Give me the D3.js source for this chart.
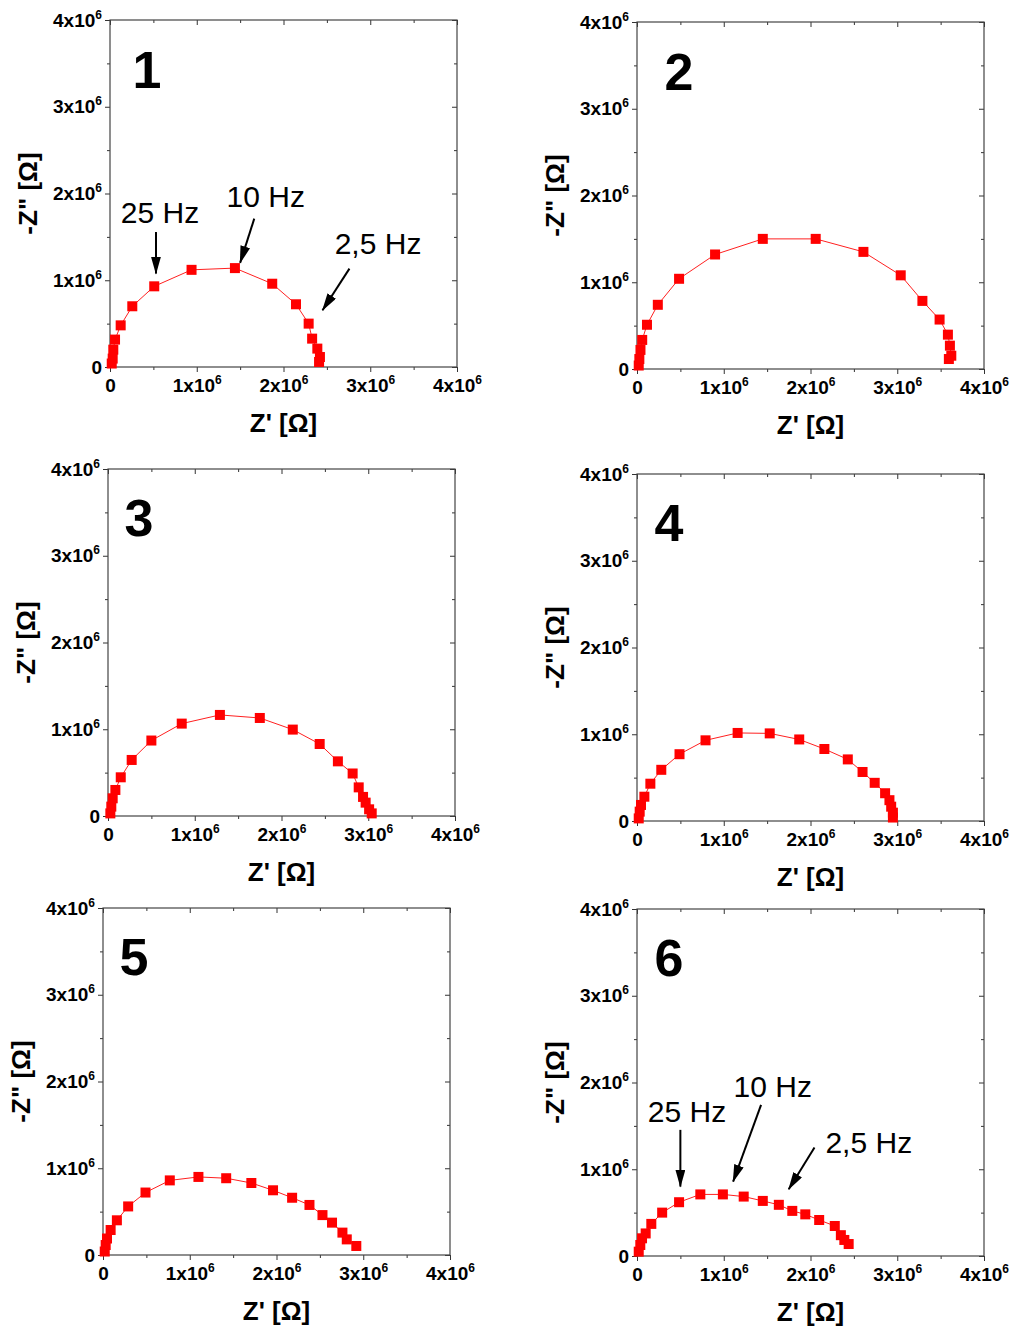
<!DOCTYPE html>
<html>
<head>
<meta charset="utf-8">
<script src="https://cdn.jsdelivr.net/npm/d3@7"></script>
<style>
  body { margin: 0; background: #fff; }
  svg { display: block; font-family: "Liberation Sans", Arial, sans-serif; }
</style>
</head>
<body>
<svg id="chart" width="1016" height="1331"></svg>
<script>
// sample numbers shown in each panel
const sampleLabels = ['1', '2', '3', '4', '5', '6'];

// Z' and -Z'' (ohm), high to low frequency
const zRe1 = [0.02e6, 0.031e6, 0.038e6, 0.058e6, 0.123e6, 0.257e6, 0.51e6, 0.94e6, 1.44e6, 1.87e6, 2.144e6, 2.29e6, 2.33e6, 2.39e6, 2.42e6, 2.41e6];
const zIm1 = [0.04e6, 0.097e6, 0.20e6, 0.316e6, 0.48e6, 0.70e6, 0.93e6, 1.12e6, 1.14e6, 0.96e6, 0.723e6, 0.50e6, 0.327e6, 0.212e6, 0.115e6, 0.058e6];

const zRe2 = [0.02e6, 0.027e6, 0.04e6, 0.06e6, 0.115e6, 0.24e6, 0.485e6, 0.90e6, 1.45e6, 2.06e6, 2.61e6, 3.04e6, 3.29e6, 3.488e6, 3.584e6, 3.607e6, 3.623e6, 3.595e6];
const zIm2 = [0.04e6, 0.115e6, 0.22e6, 0.335e6, 0.51e6, 0.74e6, 1.04e6, 1.32e6, 1.50e6, 1.50e6, 1.35e6, 1.08e6, 0.785e6, 0.57e6, 0.396e6, 0.269e6, 0.153e6, 0.115e6];

const zRe3 = [0.027e6, 0.038e6, 0.054e6, 0.085e6, 0.147e6, 0.273e6, 0.50e6, 0.85e6, 1.29e6, 1.75e6, 2.13e6, 2.44e6, 2.65e6, 2.82e6, 2.89e6, 2.94e6, 2.97e6, 3.01e6, 3.04e6];
const zIm3 = [0.03e6, 0.108e6, 0.204e6, 0.30e6, 0.446e6, 0.646e6, 0.87e6, 1.065e6, 1.165e6, 1.13e6, 0.996e6, 0.83e6, 0.63e6, 0.49e6, 0.33e6, 0.22e6, 0.154e6, 0.077e6, 0.03e6];

const zRe4 = [0.02e6, 0.031e6, 0.046e6, 0.085e6, 0.154e6, 0.28e6, 0.49e6, 0.79e6, 1.16e6, 1.53e6, 1.87e6, 2.16e6, 2.43e6, 2.60e6, 2.74e6, 2.86e6, 2.91e6, 2.93e6, 2.95e6, 2.95e6];
const zIm4 = [0.03e6, 0.108e6, 0.185e6, 0.28e6, 0.43e6, 0.59e6, 0.77e6, 0.93e6, 1.015e6, 1.01e6, 0.94e6, 0.83e6, 0.71e6, 0.565e6, 0.44e6, 0.32e6, 0.24e6, 0.165e6, 0.096e6, 0.04e6];

const zRe5 = [0.02e6, 0.031e6, 0.046e6, 0.088e6, 0.16e6, 0.29e6, 0.49e6, 0.77e6, 1.10e6, 1.42e6, 1.71e6, 1.96e6, 2.18e6, 2.38e6, 2.53e6, 2.64e6, 2.76e6, 2.81e6, 2.92e6];
const zIm5 = [0.04e6, 0.115e6, 0.19e6, 0.288e6, 0.40e6, 0.56e6, 0.72e6, 0.86e6, 0.90e6, 0.885e6, 0.83e6, 0.746e6, 0.66e6, 0.577e6, 0.46e6, 0.373e6, 0.258e6, 0.18e6, 0.104e6];

const zRe6 = [0.02e6, 0.038e6, 0.058e6, 0.10e6, 0.165e6, 0.29e6, 0.485e6, 0.73e6, 0.99e6, 1.23e6, 1.45e6, 1.635e6, 1.79e6, 1.94e6, 2.10e6, 2.28e6, 2.35e6, 2.39e6, 2.44e6];
const zIm6 = [0.05e6, 0.127e6, 0.204e6, 0.26e6, 0.37e6, 0.50e6, 0.62e6, 0.71e6, 0.71e6, 0.685e6, 0.635e6, 0.59e6, 0.52e6, 0.48e6, 0.415e6, 0.346e6, 0.24e6, 0.185e6, 0.138e6];

const majorTicks = [0, 1e6, 2e6, 3e6, 4e6];
const minorTicks = [0.5e6, 1.5e6, 2.5e6, 3.5e6];
const freqLabels = ['25 Hz', '10 Hz', '2,5 Hz'];

const seriesRe = [zRe1, zRe2, zRe3, zRe4, zRe5, zRe6];
const seriesIm = [zIm1, zIm2, zIm3, zIm4, zIm5, zIm6];

// frame position of each panel and offset of its big number
const layout = [
  { left: 110, top: 20, numX: 37, numY: 68 },
  { left: 637, top: 22, numX: 42, numY: 68 },
  { left: 108, top: 469, numX: 31, numY: 67 },
  { left: 637, top: 474, numX: 32, numY: 67 },
  { left: 103, top: 908, numX: 31, numY: 67 },
  { left: 637, top: 909, numX: 32, numY: 67 },
];
const size = 347;

// arrow annotations (data units): label anchor, arrow start, arrow tip
const notes = {
  0: [
    { tx: 0.576e6, ty: 1.66e6, from: [0.53e6, 1.556e6], to: [0.53e6, 1.077e6] },
    { tx: 1.795e6, ty: 1.844e6, from: [1.663e6, 1.71e6], to: [1.50e6, 1.20e6] },
    { tx: 3.09e6, ty: 1.307e6, from: [2.76e6, 1.134e6], to: [2.45e6, 0.654e6] },
  ],
  5: [
    { tx: 0.577e6, ty: 1.55e6, from: [0.50e6, 1.454e6], to: [0.50e6, 0.80e6] },
    { tx: 1.565e6, ty: 1.838e6, from: [1.43e6, 1.742e6], to: [1.108e6, 0.857e6] },
    { tx: 2.672e6, ty: 1.192e6, from: [2.046e6, 1.25e6], to: [1.749e6, 0.77e6] },
  ],
};

const svg = d3.select('#chart');

svg.append('defs').append('marker')
    .attr('id', 'head')
    .attr('markerUnits', 'userSpaceOnUse')
    .attr('viewBox', '0 0 18 10')
    .attr('markerWidth', 18)
    .attr('markerHeight', 10)
    .attr('refX', 17)
    .attr('refY', 5)
    .attr('orient', 'auto')
  .append('path')
    .attr('d', 'M0,0L18,5L0,10Z')
    .attr('fill', '#000');

function tickText(d) {
  return d === 0 ? '0' : `${d / 1e6}x10`;
}

function styleAxis(g, labels) {
  g.select('.domain').remove();
  g.attr('font-family', null)
    .attr('font-size', 19)
    .attr('font-weight', 'bold')
    .attr('color', '#333');
  if (labels) {
    g.selectAll('.tick text')
      .attr('fill', '#000')
      .each(function addSup(d) {
        if (d !== 0) {
          d3.select(this).append('tspan')
            .attr('dy', -8)
            .attr('font-size', 12)
            .text('6');
        }
      });
  }
}

sampleLabels.forEach((label, i) => {
  const pos = layout[i];
  const x = d3.scaleLinear().domain([0, 4e6]).range([0, size]);
  const y = d3.scaleLinear().domain([0, 4e6]).range([size, 0]);
  const pts = seriesRe[i].map((re, k) => ({ re, im: seriesIm[i][k] }));

  const g = svg.append('g')
      .attr('transform', `translate(${pos.left},${pos.top})`);

  // minor ticks
  g.append('g').attr('transform', `translate(0,${size})`)
    .call(d3.axisBottom(x).tickValues(minorTicks).tickSize(3).tickFormat(''))
    .call(s => styleAxis(s, false));
  g.append('g')
    .call(d3.axisTop(x).tickValues(minorTicks).tickSize(-3).tickFormat(''))
    .call(s => styleAxis(s, false));
  g.append('g')
    .call(d3.axisLeft(y).tickValues(minorTicks).tickSize(3).tickFormat(''))
    .call(s => styleAxis(s, false));
  g.append('g').attr('transform', `translate(${size},0)`)
    .call(d3.axisRight(y).tickValues(minorTicks).tickSize(-3).tickFormat(''))
    .call(s => styleAxis(s, false));

  // major ticks with labels on bottom and left
  g.append('g').attr('transform', `translate(0,${size})`)
    .call(d3.axisBottom(x).tickValues(majorTicks).tickSize(5).tickPadding(7).tickFormat(tickText))
    .call(s => styleAxis(s, true));
  g.append('g')
    .call(d3.axisLeft(y).tickValues(majorTicks).tickSize(5).tickPadding(3).tickFormat(tickText))
    .call(s => styleAxis(s, true));
  g.append('g')
    .call(d3.axisTop(x).tickValues(majorTicks).tickSize(-5).tickFormat(''))
    .call(s => styleAxis(s, false));
  g.append('g').attr('transform', `translate(${size},0)`)
    .call(d3.axisRight(y).tickValues(majorTicks).tickSize(-5).tickFormat(''))
    .call(s => styleAxis(s, false));

  g.append('rect')
      .attr('width', size)
      .attr('height', size)
      .attr('fill', 'none')
      .attr('stroke', '#444')
      .attr('stroke-width', 1.2);

  // data
  const line = d3.line().x(d => x(d.re)).y(d => y(d.im));
  g.append('path')
      .datum(pts)
      .attr('d', line)
      .attr('fill', 'none')
      .attr('stroke', '#ff2020')
      .attr('stroke-width', 1);

  g.selectAll('rect.pt')
    .data(pts)
    .enter().append('rect')
      .attr('class', 'pt')
      .attr('x', d => x(d.re) - 5)
      .attr('y', d => y(d.im) - 5)
      .attr('width', 10)
      .attr('height', 10)
      .attr('fill', '#ff0000');

  // panel number
  g.append('text')
      .attr('x', pos.numX)
      .attr('y', pos.numY)
      .attr('text-anchor', 'middle')
      .attr('font-size', 52)
      .attr('font-weight', 'bold')
      .text(label);

  // axis titles
  g.append('text')
      .attr('x', size / 2)
      .attr('y', size + 65)
      .attr('text-anchor', 'middle')
      .attr('font-size', 26)
      .attr('font-weight', 'bold')
      .text("Z' [Ω]");

  g.append('text')
      .attr('transform', `translate(-73,${size / 2}) rotate(-90)`)
      .attr('text-anchor', 'middle')
      .attr('font-size', 26)
      .attr('font-weight', 'bold')
      .text('-Z" [Ω]');

  // frequency arrows
  (notes[i] || []).forEach((n, k) => {
    g.append('line')
        .attr('x1', x(n.from[0]))
        .attr('y1', y(n.from[1]))
        .attr('x2', x(n.to[0]))
        .attr('y2', y(n.to[1]))
        .attr('stroke', '#000')
        .attr('stroke-width', 2)
        .attr('marker-end', 'url(#head)');
    g.append('text')
        .attr('x', x(n.tx))
        .attr('y', y(n.ty))
        .attr('text-anchor', 'middle')
        .attr('font-size', 30)
        .text(freqLabels[k]);
  });
});
</script>
</body>
</html>
